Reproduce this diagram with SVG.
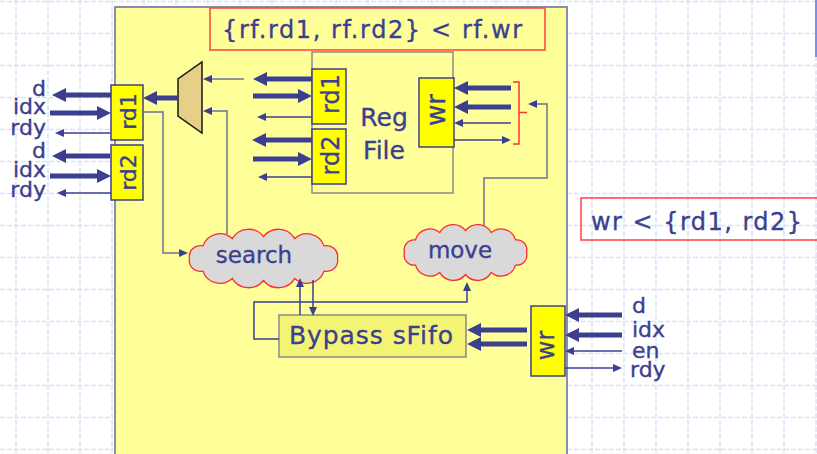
<svg xmlns="http://www.w3.org/2000/svg" width="817" height="454" viewBox="0 0 817 454">
<defs>
<style>
text{font-family:"DejaVu Sans","Liberation Sans",sans-serif;fill:#3c3f8f;stroke:#3c3f8f;stroke-width:0.35}
.grid{stroke:#dce2f9;stroke-width:1.5;stroke-dasharray:5 2;fill:none}
.thick{stroke:#3c3f8f;stroke-width:5;fill:none}
.thin{stroke:#3c3f8f;stroke-width:1.5;fill:none}
.conn{stroke:#6e7098;stroke-width:1.5;fill:none}
.ybox{fill:#ffff00;stroke:#3c3f8f;stroke-width:1.5}
.cloud{fill:#d9d9d9;stroke:#ff2a2a;stroke-width:1.3}
.red{stroke:#ff4040;stroke-width:1.5;fill:none}
</style>
<marker id="hk" markerUnits="userSpaceOnUse" markerWidth="14" markerHeight="14" refX="2" refY="7" orient="auto"><path d="M0,0L14,7L0,14z" fill="#3c3f8f"/></marker>
<marker id="hn" markerUnits="userSpaceOnUse" markerWidth="9" markerHeight="8" refX="2" refY="4" orient="auto"><path d="M0,0L9,4L0,8z" fill="#3c3f8f"/></marker>
</defs>
<rect width="817" height="454" fill="#ffffff"/>
<path class="grid" d="M16 0V454M48 0V454M80 0V454M112 0V454M144 0V454M176 0V454M208 0V454M240 0V454M272 0V454M304 0V454M336 0V454M368 0V454M400 0V454M432 0V454M464 0V454M496 0V454M528 0V454M560 0V454M592 0V454M624 0V454M656 0V454M688 0V454M720 0V454M752 0V454M784 0V454M816 0V454M0 1.5H817M0 33.5H817M0 65.5H817M0 97.5H817M0 129.5H817M0 161.5H817M0 193.5H817M0 225.5H817M0 257.5H817M0 289.5H817M0 321.5H817M0 353.5H817M0 385.5H817M0 417.5H817M0 449.5H817"/>
<rect x="815" y="0" width="2" height="57" fill="#7b8ef0"/>
<g id="module">
<rect x="115" y="7" width="452" height="470" fill="#ffff99" stroke="#8c8cae" stroke-width="2"/>
</g>
<g id="constraint-top">
<rect x="210" y="8" width="335" height="42" fill="#ffff99" stroke="#ff4040" stroke-width="1.5"/>
<text x="222" y="38" font-size="24" textLength="300">{rf.rd1, rf.rd2} &lt; rf.wr</text>
</g>
<g id="constraint-right">
<rect x="581" y="198" width="250" height="42" class="red" stroke="#ff6060"/>
<text x="591" y="230" font-size="24" textLength="211">wr &lt; {rd1, rd2}</text>
</g>
<g id="regfile">
<rect x="312" y="52" width="141" height="141" fill="none" stroke="#8a8a8a" stroke-width="1.5"/>
<text x="384" y="126" font-size="25" text-anchor="middle">Reg</text>
<text x="384" y="159" font-size="25" text-anchor="middle">File</text>
</g>
<g id="rf-rd1">
<rect class="ybox" x="312" y="69" width="34" height="55"/>
<text transform="translate(329,94) rotate(-90)" y="10" font-size="24" text-anchor="middle">rd1</text>
</g>
<g id="rf-rd2">
<rect class="ybox" x="312" y="129" width="34" height="55"/>
<text transform="translate(329,155.5) rotate(-90)" y="10" font-size="24" text-anchor="middle">rd2</text>
</g>
<g id="rf-wr">
<rect class="ybox" x="419" y="78" width="35" height="69"/>
<text transform="translate(436.5,110) rotate(-90)" y="8" font-size="26" text-anchor="middle">wr</text>
</g>
<g id="rd1">
<rect class="ybox" x="111" y="85" width="32" height="55"/>
<text transform="translate(127,111.5) rotate(-90)" y="9" font-size="22" text-anchor="middle">rd1</text>
</g>
<g id="rd2">
<rect class="ybox" x="111" y="145" width="32" height="55"/>
<text transform="translate(127,172.5) rotate(-90)" y="9" font-size="22" text-anchor="middle">rd2</text>
</g>
<g id="wr">
<rect class="ybox" x="531" y="306" width="34" height="70"/>
<text transform="translate(548,345.5) rotate(-90)" y="6" font-size="24" text-anchor="middle">wr</text>
</g>
<g id="mux">
<path d="M202,62L202,133L178,116L178,79Z" fill="#e6cf86" stroke="#1a1a1a" stroke-width="1.5"/>
</g>
<g id="search">
<path class="cloud" d="M189.5,258.5A11,11 0 0 1 202.9,245.9A18,18 0 0 1 232.2,238.6A19,19 0 0 1 263.5,236.5A19,19 0 0 1 294.8,238.6A18,18 0 0 1 324.1,245.9A11,11 0 0 1 337.5,258.5A11,11 0 0 1 324.1,271.1A18,18 0 0 1 294.8,278.4A19,19 0 0 1 263.5,280.5A19,19 0 0 1 232.2,278.4A18,18 0 0 1 202.9,271.1A11,11 0 0 1 189.5,258.5Z"/>
<text x="254" y="263" font-size="23" text-anchor="middle">search</text>
</g>
<g id="move">
<path class="cloud" d="M404.5,252.5A10,10 0 0 1 415.5,239.9A15,15 0 0 1 439.7,232.6A15.5,15.5 0 0 1 465.5,230.5A15.5,15.5 0 0 1 491.3,232.6A15,15 0 0 1 515.5,239.9A10,10 0 0 1 526.5,252.5A10,10 0 0 1 515.5,265.1A15,15 0 0 1 491.3,272.4A15.5,15.5 0 0 1 465.5,274.5A15.5,15.5 0 0 1 439.7,272.4A15,15 0 0 1 415.5,265.1A10,10 0 0 1 404.5,252.5Z"/>
<text x="460" y="258" font-size="23" text-anchor="middle">move</text>
</g>
<g id="bypass">
<rect x="279" y="315" width="187" height="42" fill="#f4f474" stroke="#8a8a8a" stroke-width="1.5"/>
<text x="289" y="344" font-size="25" textLength="164">Bypass sFifo</text>
</g>
<g id="labels">
<text x="46" y="96" font-size="22" text-anchor="end">d</text>
<text x="46" y="114" font-size="22" text-anchor="end">idx</text>
<text x="46" y="135" font-size="22" text-anchor="end">rdy</text>
<text x="46" y="158" font-size="22" text-anchor="end">d</text>
<text x="46" y="177" font-size="22" text-anchor="end">idx</text>
<text x="46" y="197" font-size="22" text-anchor="end">rdy</text>
<text x="632" y="313" font-size="22">d</text>
<text x="632" y="337" font-size="22">idx</text>
<text x="632" y="358" font-size="22">en</text>
<text x="630" y="377" font-size="22">rdy</text>
</g>
<path d="M513,82H519V144H513M519,112.5H527" stroke="#ff3030" stroke-width="1.5" fill="none"/>
<g id="connectors">
<path class="thick" marker-end="url(#hk)" d="M111,95H64"/>
<path class="thick" marker-end="url(#hk)" d="M50,113H99"/>
<path class="thin" marker-end="url(#hn)" d="M111,133H62"/>
<path class="thick" marker-end="url(#hk)" d="M110,156H64"/>
<path class="thick" marker-end="url(#hk)" d="M50,176H99"/>
<path class="thin" marker-end="url(#hn)" d="M111,193H64"/>
<path class="thick" marker-end="url(#hk)" d="M178,98H155"/>
<path class="conn" marker-end="url(#hn)" d="M244,79H210"/>
<path class="thick" marker-end="url(#hk)" d="M312,79H265"/>
<path class="thick" marker-end="url(#hk)" d="M253,96H300"/>
<path class="thin" marker-end="url(#hn)" d="M312,117H264"/>
<path class="thick" marker-end="url(#hk)" d="M312,140H264"/>
<path class="thick" marker-end="url(#hk)" d="M253,159H300"/>
<path class="thin" marker-end="url(#hn)" d="M312,177H265"/>
<path class="thick" marker-end="url(#hk)" d="M511,88H466"/>
<path class="thick" marker-end="url(#hk)" d="M511,107H466"/>
<path class="thin" marker-end="url(#hn)" d="M511,123H461"/>
<path class="thin" marker-end="url(#hn)" d="M454,140H504"/>
<path class="conn" marker-end="url(#hn)" d="M484,226V178H547V104H535"/>
<path class="conn" marker-end="url(#hn)" d="M143,112H163V253H181"/>
<path class="conn" marker-end="url(#hn)" d="M227,234V111H210"/>
<path class="thin" marker-end="url(#hn)" d="M300,315V285"/>
<path class="thin" marker-end="url(#hn)" d="M313,280V309"/>
<path class="thin" marker-end="url(#hn)" d="M279,339H254V302H467V289"/>
<path class="thick" marker-end="url(#hk)" d="M527,330H479"/>
<path class="thick" marker-end="url(#hk)" d="M527,344H479"/>
<path class="thick" marker-end="url(#hk)" d="M622,315H577"/>
<path class="thick" marker-end="url(#hk)" d="M622,335H577"/>
<path class="thin" marker-end="url(#hn)" d="M622,351H572"/>
<path class="thin" marker-end="url(#hn)" d="M565,368H615"/>
</g>
</svg>
